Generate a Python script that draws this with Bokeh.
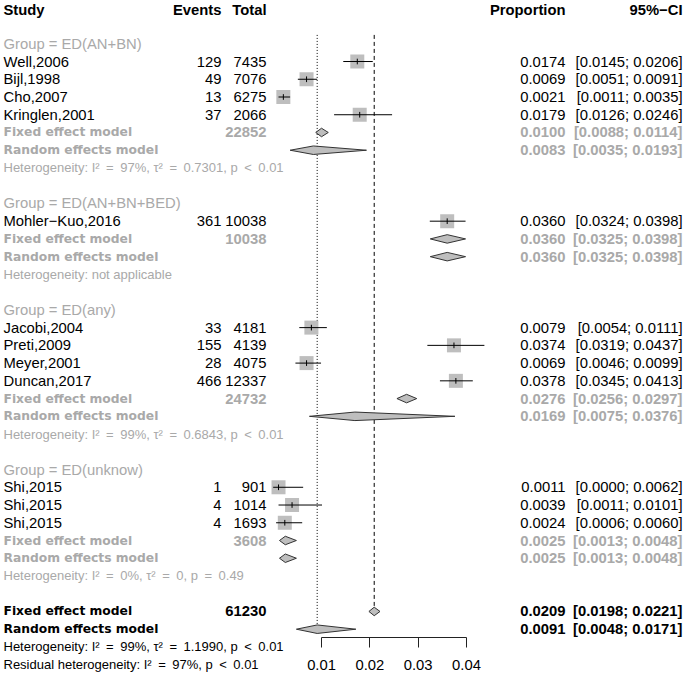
from bokeh.plotting import figure
from bokeh.models import Range1d, LinearAxis, FixedTicker, ColumnDataSource, PrintfTickFormatter
from bokeh.embed import file_html
from bokeh.resources import INLINE
from bokeh.core.properties import value

# ---------------- data ----------------
group_labels = ["ED(AN+BN)", "ED(AN+BN+BED)", "ED(any)", "ED(unknow)"]
study_group = [0, 0, 0, 0, 1, 2, 2, 2, 2, 3, 3, 3]
study = ["Well,2006", "Bijl,1998", "Cho,2007", "Kringlen,2001",
         "Mohler\u2212Kuo,2016",
         "Jacobi,2004", "Preti,2009", "Meyer,2001", "Duncan,2017",
         "Shi,2015", "Shi,2015", "Shi,2015"]
events = [129, 49, 13, 37, 361, 33, 155, 28, 466, 1, 4, 4]
total = [7435, 7076, 6275, 2066, 10038, 4181, 4139, 4075, 12337, 901, 1014, 1693]
proportion = [0.0174, 0.0069, 0.0021, 0.0179, 0.0360, 0.0079, 0.0374, 0.0069, 0.0378, 0.0011, 0.0039, 0.0024]
ci_lower = [0.0145, 0.0051, 0.0011, 0.0126, 0.0324, 0.0054, 0.0319, 0.0046, 0.0345, 0.0000, 0.0011, 0.0006]
ci_upper = [0.0206, 0.0091, 0.0035, 0.0246, 0.0398, 0.0111, 0.0437, 0.0099, 0.0413, 0.0062, 0.0101, 0.0060]

sub_total = [22852, 10038, 24732, 3608]
sub_fixed = [0.0100, 0.0360, 0.0276, 0.0025]
sub_fixed_lo = [0.0088, 0.0325, 0.0256, 0.0013]
sub_fixed_hi = [0.0114, 0.0398, 0.0297, 0.0048]
sub_random = [0.0083, 0.0360, 0.0169, 0.0025]
sub_random_lo = [0.0035, 0.0325, 0.0075, 0.0013]
sub_random_hi = [0.0193, 0.0398, 0.0376, 0.0048]
SP = "\u2002"
sub_het = [f"Heterogeneity: I\u00b2{SP}={SP}97%, \u03c4\u00b2{SP}={SP}0.7301, p{SP}<{SP}0.01",
           "Heterogeneity: not applicable",
           f"Heterogeneity: I\u00b2{SP}={SP}99%, \u03c4\u00b2{SP}={SP}0.6843, p{SP}<{SP}0.01",
           f"Heterogeneity: I\u00b2{SP}={SP}0%, \u03c4\u00b2{SP}={SP}0, p{SP}={SP}0.49"]

overall_total = 61230
overall_fixed = [0.0209, 0.0198, 0.0221]
overall_random = [0.0091, 0.0048, 0.0171]
overall_het = f"Heterogeneity: I\u00b2{SP}={SP}99%, \u03c4\u00b2{SP}={SP}1.1990, p{SP}<{SP}0.01"
residual_het = f"Residual heterogeneity: I\u00b2{SP}={SP}97%, p{SP}<{SP}0.01"

axis_ticks = [0.01, 0.02, 0.03, 0.04]

# ---------------- layout helpers ----------------
W, H = 685, 674
X0, XS = 272.7, 4833.0          # page px of proportion 0, px per unit
ROW0, RS = 7.8, 17.74            # page px of row 0, px per row


def px(sx):
    return (sx - X0) / XS


x_start, x_end = px(0), px(W)
y_top = (0 - ROW0) / RS
y_bot = (H - ROW0) / RS

GRAY = "#A9A9A9"
BOX = "#BEBEBE"
FONT = "Liberation Sans"
LABEL_FONT = "DejaVu Sans"
FS = "14.8px"
FS_LABEL = "12.3px"
FS_HET = "13px"

COL_STUDY = px(3)
COL_EVENTS = px(221)
COL_TOTAL = px(266)
COL_PROP = px(565)
COL_CI = px(682)

texts = {}


def add_text(x, y, s, align="left", color="black", style="normal", size=FS, font=FONT):
    d = texts.setdefault((align, color, style, size, font), dict(x=[], y=[], text=[]))
    d["x"].append(x); d["y"].append(y); d["text"].append(s)


def fmt(v):
    return f"{v:.4f}"


def fmt_ci(lo, hi):
    return f"[{lo:.4f}; {hi:.4f}]"


def add_label(y, s, color):
    add_text(COL_STUDY, y, s, color=color, style="bold", size=FS_LABEL, font=LABEL_FONT)


# header
add_text(COL_STUDY, 0.1, "Study", style="bold")
add_text(COL_EVENTS, 0.1, "Events", "right", style="bold")
add_text(COL_TOTAL, 0.1, "Total", "right", style="bold")
add_text(COL_PROP, 0.1, "Proportion", "right", style="bold")
add_text(COL_CI, 0.1, "95%\u2212CI", "right", style="bold")

st_rows = []
diamonds = []   # (lo, est, hi, row)
row = 2
for g, glabel in enumerate(group_labels):
    add_text(COL_STUDY, row, "Group = " + glabel, color=GRAY)
    row += 1
    for k in range(len(study)):
        if study_group[k] != g:
            continue
        st_rows.append(row)
        add_text(COL_STUDY, row, study[k])
        add_text(COL_EVENTS, row, str(events[k]), "right")
        add_text(COL_TOTAL, row, str(total[k]), "right")
        add_text(COL_PROP, row, fmt(proportion[k]), "right")
        add_text(COL_CI, row, fmt_ci(ci_lower[k], ci_upper[k]), "right")
        row += 1
    add_label(row, "Fixed effect model", GRAY)
    add_text(COL_TOTAL, row, str(sub_total[g]), "right", color=GRAY, style="bold")
    add_text(COL_PROP, row, fmt(sub_fixed[g]), "right", color=GRAY, style="bold")
    add_text(COL_CI, row, fmt_ci(sub_fixed_lo[g], sub_fixed_hi[g]), "right", color=GRAY, style="bold")
    diamonds.append((sub_fixed_lo[g], sub_fixed[g], sub_fixed_hi[g], row))
    row += 1
    add_label(row, "Random effects model", GRAY)
    add_text(COL_PROP, row, fmt(sub_random[g]), "right", color=GRAY, style="bold")
    add_text(COL_CI, row, fmt_ci(sub_random_lo[g], sub_random_hi[g]), "right", color=GRAY, style="bold")
    diamonds.append((sub_random_lo[g], sub_random[g], sub_random_hi[g], row))
    row += 1
    add_text(COL_STUDY, row, sub_het[g], color=GRAY, size=FS_HET)
    row += 2

fixed_row = row
add_label(row, "Fixed effect model", "black")
add_text(COL_TOTAL, row, str(overall_total), "right", style="bold")
add_text(COL_PROP, row, fmt(overall_fixed[0]), "right", style="bold")
add_text(COL_CI, row, fmt_ci(overall_fixed[1], overall_fixed[2]), "right", style="bold")
diamonds.append((overall_fixed[1], overall_fixed[0], overall_fixed[2], row))
row += 1
random_row = row
add_label(row, "Random effects model", "black")
add_text(COL_PROP, row, fmt(overall_random[0]), "right", style="bold")
add_text(COL_CI, row, fmt_ci(overall_random[1], overall_random[2]), "right", style="bold")
diamonds.append((overall_random[1], overall_random[0], overall_random[2], row))
row += 1
add_text(COL_STUDY, row, overall_het, size=FS_HET)
row += 1
add_text(COL_STUDY, row, residual_het, size=FS_HET)
axis_row = random_row + 0.45

# ---------------- figure ----------------
p = figure(width=W, height=H, x_range=Range1d(x_start, x_end), y_range=Range1d(y_bot, y_top),
           output_backend="svg", toolbar_location=None, x_axis_location=None, y_axis_location=None,
           min_border=0, outline_line_color=None)
p.min_border_left = p.min_border_right = p.min_border_top = p.min_border_bottom = 0

# reference lines (overall random: dotted, overall fixed: dashed)
DH = 0.24
p.segment(x0=[overall_random[0]], y0=[1.5], x1=[overall_random[0]], y1=[random_row],
          line_color="black", line_width=1, line_dash="1 2")
p.segment(x0=[overall_fixed[0]], y0=[1.5], x1=[overall_fixed[0]], y1=[fixed_row - DH],
          line_color="black", line_width=1, line_dash="4 3")

# study squares and CIs
p.scatter(x=proportion, y=st_rows, marker="square", size=14, fill_color=BOX, line_color=None)
p.segment(x0=ci_lower, y0=st_rows, x1=ci_upper, y1=st_rows, line_color="black", line_width=1)
p.segment(x0=proportion, y0=[r - 0.16 for r in st_rows], x1=proportion, y1=[r + 0.16 for r in st_rows],
          line_color="black", line_width=1)

# pooled-estimate diamonds
xs = [[lo, est, hi, est] for lo, est, hi, r in diamonds]
ys = [[r, r - DH, r, r + DH] for lo, est, hi, r in diamonds]
p.patches(xs=xs, ys=ys, fill_color=BOX, line_color="#333333", line_width=1)

# texts: one glyph per style group
for (align, color, style, size, font), d in texts.items():
    p.text(x="x", y="y", text="text", source=ColumnDataSource(d), text_align=align,
           text_baseline="middle", text_color=color, text_font_style=style,
           text_font_size=size, text_font=value(font))

# axis
ax = LinearAxis(fixed_location=axis_row, bounds=(axis_ticks[0], axis_ticks[-1]),
                ticker=FixedTicker(ticks=axis_ticks), formatter=PrintfTickFormatter(format="%.2f"),
                major_tick_out=10, major_tick_in=0, minor_tick_out=0, minor_tick_in=0,
                axis_line_color="#222222", major_tick_line_color="#222222",
                major_label_text_font=FONT, major_label_text_font_size=FS,
                major_label_text_color="black", major_label_standoff=13)
p.add_layout(ax, "below")
p.grid.visible = False

open("out.html", "w").write(file_html(p, INLINE))
